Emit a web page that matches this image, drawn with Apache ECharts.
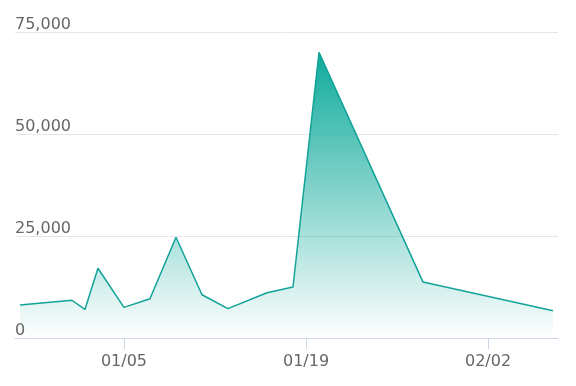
<!DOCTYPE html>
<html>
<head>
<meta charset="utf-8">
<script src="https://cdn.jsdelivr.net/npm/echarts@6/dist/echarts.min.js"></script>
<style>
html,body{margin:0;padding:0;background:#fff;}
#chart{width:576px;height:386px;}
</style>
</head>
<body>
<div id="chart"></div>
<script>
// Data
var dates = ['2024-12-28','2025-01-01','2025-01-02','2025-01-03','2025-01-05','2025-01-07','2025-01-09','2025-01-11','2025-01-13','2025-01-16','2025-01-18','2025-01-20','2025-01-28','2025-02-07'];
var values = [8100, 9250, 7000, 17100, 7500, 9600, 24700, 10600, 7200, 11100, 12500, 70000, 13700, 6700];
var xTickDates = ['2025-01-05','2025-01-19','2025-02-02'];
var yTicks = [0, 25000, 50000, 75000];

var DAY = 86400000;
var base = Date.UTC(2025, 0, 5);
function toDay(s){ var p = s.split('-'); return (Date.UTC(+p[0], +p[1]-1, +p[2]) - base) / DAY; }
function fmtDay(d){ var t = new Date(base + Math.round(d) * DAY); var m = t.getUTCMonth()+1, dd = t.getUTCDate(); return (m<10?'0':'')+m+'/'+(dd<10?'0':'')+dd; }

var seriesData = dates.map(function(d,i){ return [toDay(d), values[i]]; });
var xTicks = xTickDates.map(toDay);
var firstDay = toDay(dates[0]), lastDay = toDay(dates[dates.length-1]);

var chart = echarts.init(document.getElementById('chart'), null, {renderer:'canvas'});
chart.setOption({
  animation: false,
  grid: {left: 15, right: 18, top: 32, bottom: 48, containLabel: false},
  xAxis: {
    type: 'value',
    min: firstDay - 0.38,
    max: lastDay + 0.38,
    splitLine: {show: false},
    axisLine: {show: true, lineStyle: {color: '#ccd6eb', width: 1}},
    axisTick: {show: true, customValues: xTicks, length: 11, lineStyle: {color: '#ccd6eb'}},
    axisLabel: {customValues: xTicks, formatter: function(v){ return fmtDay(v); }, color: '#666666', fontFamily: 'DejaVu Sans', fontSize: 16, margin: 16}
  },
  yAxis: {
    type: 'value',
    min: yTicks[0], max: yTicks[yTicks.length-1], interval: 25000,
    axisLine: {show: false},
    axisTick: {show: false},
    splitLine: {show: true, lineStyle: {color: '#e6e6e6', width: 1}},
    axisLabel: {
      inside: true, margin: 0, verticalAlign: 'bottom', padding: [0,0,-1,0],
      color: '#666666', fontFamily: 'DejaVu Sans', fontSize: 16,
      formatter: function(v){ return v.toLocaleString('en-US'); }
    }
  },
  series: [{
    type: 'line',
    data: seriesData,
    symbol: 'none',
    lineStyle: {color: '#11a398', width: 1.5},
    areaStyle: {
      opacity: 1,
      color: new echarts.graphic.LinearGradient(0,0,0,1,[
        {offset: 0, color: 'rgba(15,170,155,1)'},
        {offset: 1, color: 'rgba(15,170,155,0)'}
      ])
    }
  }]
});
</script>
</body>
</html>
